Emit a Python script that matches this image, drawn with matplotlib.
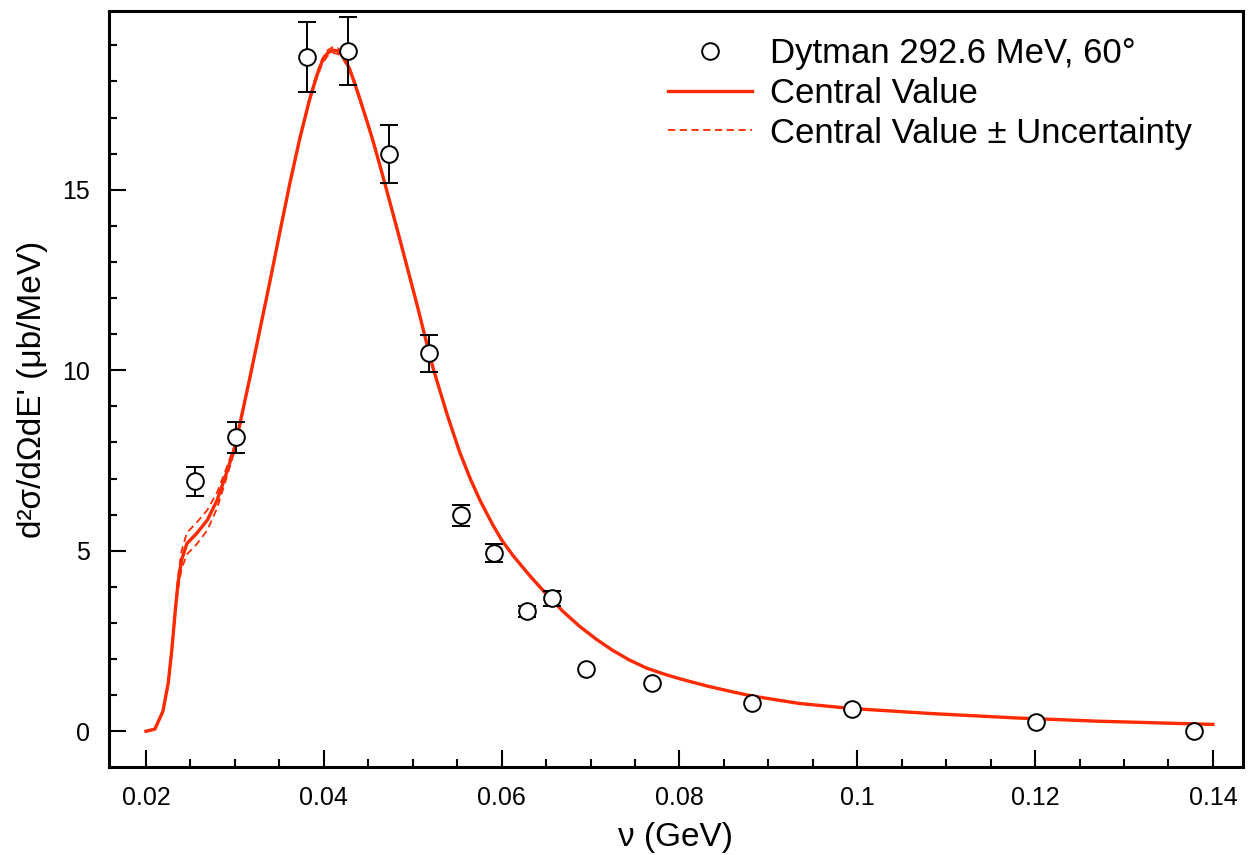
# d2sigma / dOmega dE' vs nu, Dytman 292.6 MeV 60 deg
import numpy as np
from matplotlib import pyplot as plt
from matplotlib.ticker import MultipleLocator, FixedLocator, FixedFormatter

plt.rcParams['font.family'] = ['Liberation Sans', 'DejaVu Sans']

# data points
nu_data = [0.0255, 0.0301, 0.0381, 0.0427, 0.0473, 0.0518, 0.0554, 0.0591,
           0.0629, 0.0657, 0.0695, 0.0769, 0.0882, 0.0994, 0.1201, 0.1379]
xs_data = [6.93, 8.14, 18.67, 18.84, 15.98, 10.47, 5.98, 4.93,
           3.32, 3.68, 1.72, 1.33, 0.78, 0.61, 0.25, 0.00]
xs_err = [0.40, 0.42, 0.97, 0.95, 0.80, 0.52, 0.30, 0.25,
          0.15, 0.20, 0.0, 0.0, 0.0, 0.0, 0.0, 0.0]

# central value curve
nu_curve = [0.0200, 0.0210, 0.0219, 0.0225, 0.0229, 0.0233, 0.0236, 0.0240,
            0.0246, 0.0257, 0.0269, 0.0280, 0.0289, 0.0300, 0.0317, 0.0328,
            0.0339, 0.0351, 0.0362, 0.0373, 0.0384, 0.0392, 0.0398, 0.0404,
            0.0410, 0.0416, 0.0422, 0.0428, 0.0434, 0.0441, 0.0449, 0.0455,
            0.0463, 0.0471, 0.0486, 0.0505, 0.0516, 0.0523, 0.0539, 0.0553,
            0.0565, 0.0576, 0.0590, 0.0600, 0.0613, 0.0632, 0.0651, 0.0669,
            0.0688, 0.0707, 0.0725, 0.0744, 0.0763, 0.0782, 0.0801, 0.0830,
            0.0860, 0.0881, 0.0935, 0.0994, 0.1084, 0.1178, 0.1270, 0.1400]
xs_curve = [0.00, 0.06, 0.55, 1.33, 2.24, 3.35, 4.10, 4.74,
            5.20, 5.48, 5.85, 6.40, 7.04, 7.87, 9.81, 11.11,
            12.41, 13.88, 15.20, 16.42, 17.50, 18.15, 18.55, 18.78,
            18.87, 18.84, 18.68, 18.40, 18.00, 17.48, 16.86, 16.38,
            15.68, 14.96, 13.58, 11.80, 10.72, 10.05, 8.75, 7.72,
            6.98, 6.38, 5.72, 5.30, 4.86, 4.30, 3.78, 3.32,
            2.90, 2.54, 2.24, 1.97, 1.75, 1.59, 1.45, 1.26,
            1.09, 0.98, 0.77, 0.63, 0.49, 0.37, 0.28, 0.19]
# half-width of the uncertainty band
xs_unc = [0.0, 0.0, 0.02, 0.05, 0.08, 0.12, 0.18, 0.25,
          0.30, 0.30, 0.28, 0.22, 0.15, 0.08, 0.03, 0.02,
          0.02, 0.02, 0.03, 0.04, 0.05, 0.06, 0.07, 0.08,
          0.08, 0.08, 0.07, 0.06, 0.05, 0.04, 0.03, 0.02,
          0.02, 0.02, 0.01, 0.01, 0.01, 0.01, 0.01, 0.01,
          0.01, 0.01, 0.01, 0.01, 0.01, 0.01, 0.01, 0.01,
          0.0, 0.0, 0.0, 0.0, 0.0, 0.0, 0.0, 0.0,
          0.0, 0.0, 0.0, 0.0, 0.0, 0.0, 0.0, 0.0]

x_ticks = [0.02, 0.04, 0.06, 0.08, 0.1, 0.12, 0.14]
x_labels = ['0.02', '0.04', '0.06', '0.08', '0.1', '0.12', '0.14']
y_ticks = [0, 5, 10, 15]

red = '#ff2a00'

fig = plt.figure(figsize=(12.6, 8.55), dpi=100)
ax = fig.add_axes([0.0865, 0.1029, 0.9, 0.8842])

central = np.array(xs_curve)
unc = np.array(xs_unc)
l_up, = ax.plot(nu_curve, central + unc, color=red, lw=1.3, ls=(0, (4, 2.5)))
ax.plot(nu_curve, central - unc, color=red, lw=1.3, ls=(0, (4, 2.5)))
l_cv, = ax.plot(nu_curve, central, color=red, lw=2.4)

err = np.array(xs_err)
ax.errorbar(nu_data, xs_data, yerr=np.where(err > 0, err, np.nan),
            fmt='none', ecolor='black', elinewidth=1.4, capsize=6.5,
            capthick=1.4, zorder=3)
pts, = ax.plot(nu_data, xs_data, 'o', ms=12, mfc='white', mec='black',
               mew=1.4, ls='none', zorder=4)

ax.set_xlim(0.01584, 0.14338)
ax.set_ylim(-0.99, 19.95)
ax.xaxis.set_major_locator(FixedLocator(x_ticks))
ax.xaxis.set_major_formatter(FixedFormatter(x_labels))
ax.xaxis.set_minor_locator(MultipleLocator(0.005))
ax.yaxis.set_major_locator(FixedLocator(y_ticks))
ax.yaxis.set_minor_locator(MultipleLocator(1))
ax.tick_params(which='both', direction='in', top=False, right=False,
               labelsize=18, width=1.5)
ax.tick_params(which='major', length=12, pad=14)
ax.tick_params(which='minor', length=6)
for s in ax.spines.values():
    s.set_linewidth(2.2)

ax.set_xlabel('ν (GeV)', fontsize=24, labelpad=8)
ax.set_ylabel("d²σ/dΩdE' (μb/MeV)", fontsize=24, labelpad=10)

ax.legend([pts, l_cv, l_up],
          ['Dytman 292.6 MeV, 60°', 'Central Value',
           'Central Value ± Uncertainty'],
          loc='upper left', bbox_to_anchor=(0.493, 0.966), frameon=False,
          fontsize=25, handlelength=2.42, handletextpad=0.52,
          labelspacing=0.2, borderaxespad=0, borderpad=0)

fig.savefig('out.png', dpi=100)
